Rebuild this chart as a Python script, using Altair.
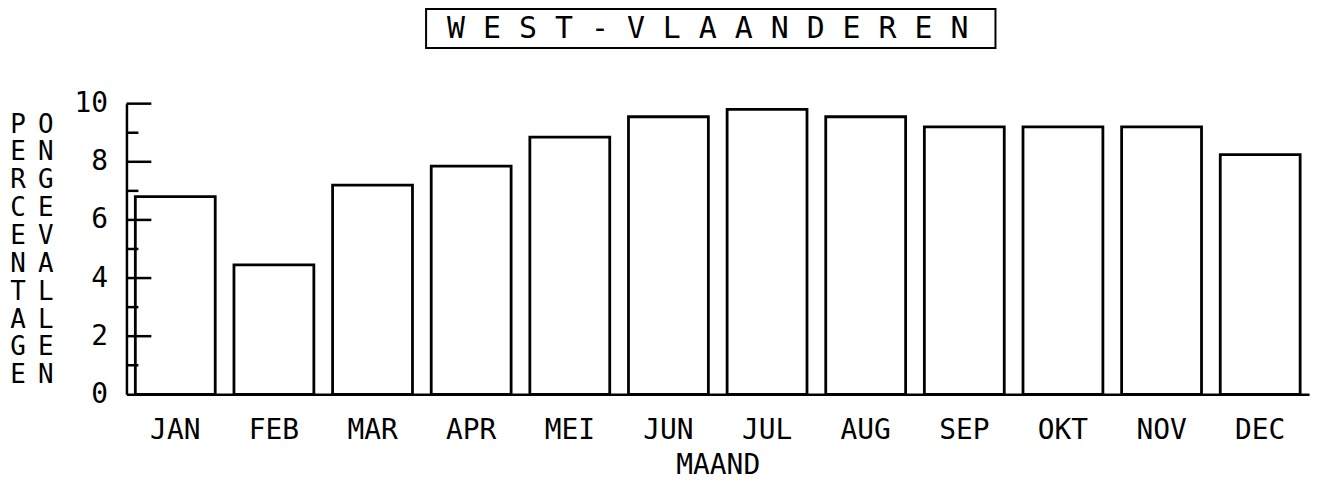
import altair as alt
import pandas as pd

# ---- data ----
months = ["JAN", "FEB", "MAR", "APR", "MEI", "JUN", "JUL", "AUG", "SEP", "OKT", "NOV", "DEC"]
percent = [6.8, 4.45, 7.2, 7.85, 8.85, 9.55, 9.8, 9.55, 9.2, 9.2, 9.2, 8.25]
major_ticks = [2, 4, 6, 8, 10]
minor_ticks = [1, 3, 5, 7, 9]
y_tick_labels = [0, 2, 4, 6, 8, 10]
title_text = "W E S T - V L A A N D E R E N"
y_title_1 = "PERCENTAGE"
y_title_2 = "ONGEVALLEN"
x_title = "MAAND"

FONT = "DejaVu Sans Mono"
W, H = 1188, 292

df = pd.DataFrame({"maand": months, "pct": percent})
df_major = pd.DataFrame({"v": major_ticks})
df_minor = pd.DataFrame({"v": minor_ticks})
one = pd.DataFrame({"t": [title_text]})

x_enc = alt.X(
    "maand:N", sort=months,
    scale=alt.Scale(paddingInner=0.19, paddingOuter=0.09),
    axis=alt.Axis(
        title=x_title, labelAngle=0, ticks=False, grid=False,
        domainColor="black", domainWidth=2.5,
        labelFont=FONT, labelFontSize=28, labelColor="black", labelPadding=22,
        titleFont=FONT, titleFontSize=28, titleFontWeight="normal", titleColor="black",
        titlePadding=8,
    ),
)
y_scale = alt.Scale(domain=[0, 10], nice=False)

bars = alt.Chart(df).mark_bar(fill="white", stroke="black", strokeWidth=2.8).encode(
    x=x_enc,
    y=alt.Y(
        "pct:Q", scale=y_scale,
        axis=alt.Axis(
            title=None, values=y_tick_labels, ticks=False, grid=False,
            domainColor="black", domainWidth=2.5,
            labelFont=FONT, labelFontSize=28, labelColor="black", labelPadding=19,
        ),
    ),
)

major = alt.Chart(df_major).mark_rule(color="black", strokeWidth=2.5).encode(
    y=alt.Y("v:Q", scale=y_scale), x=alt.value(0), x2=alt.value(25)
)
minor = alt.Chart(df_minor).mark_rule(color="black", strokeWidth=2.5).encode(
    y=alt.Y("v:Q", scale=y_scale), x=alt.value(0), x2=alt.value(12)
)

title_box = alt.Chart(one).mark_rect(filled=False, stroke="black", strokeWidth=2).encode(
    x=alt.value(301), x2=alt.value(873), y=alt.value(-95), y2=alt.value(-56)
)
title = alt.Chart(one).mark_text(
    font=FONT, fontSize=30, color="black", align="center", baseline="middle"
).encode(text="t:N", x=alt.value(584), y=alt.value(-75))

ytitle1 = alt.Chart(one).mark_text(
    font=FONT, fontSize=26, color="black", align="center", baseline="top", lineHeight=28
).encode(text=alt.value(list(y_title_1)), x=alt.value(-109), y=alt.value(8))
ytitle2 = alt.Chart(one).mark_text(
    font=FONT, fontSize=26, color="black", align="center", baseline="top", lineHeight=28
).encode(text=alt.value(list(y_title_2)), x=alt.value(-81), y=alt.value(8))

chart = alt.layer(bars, major, minor, title_box, title, ytitle1, ytitle2).properties(
    width=W, height=H,
    autosize=alt.AutoSizeParams(type="none"),
    padding={"left": 119, "top": 95, "right": 5, "bottom": 90},
).configure(background="white").configure_view(
    strokeWidth=0, stroke="transparent"
).configure_axis(grid=False)

chart.save("out.html", embed_options={"renderer": "svg", "actions": False})
